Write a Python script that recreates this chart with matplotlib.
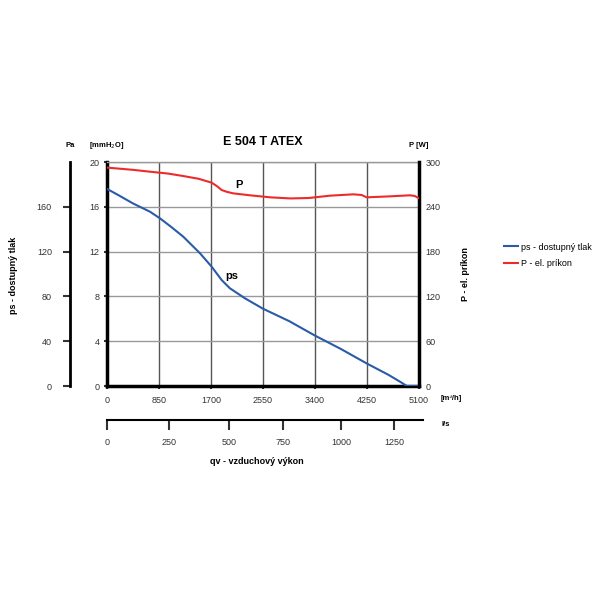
import numpy as np
import matplotlib
matplotlib.use("Agg")
import matplotlib.pyplot as plt

plt.rcParams['font.family'] = ['Liberation Sans', 'DejaVu Sans']

# airflow [m3/h] and static pressure [mmH2O]
q_ps = [0, 200, 425, 703, 866, 1050, 1247, 1520, 1711, 1874, 2010, 2255, 2550, 2975, 3400, 3825, 4250, 4600, 4800, 4900, 5080]
ps = [17.6, 17.0, 16.3, 15.56, 14.97, 14.2, 13.33, 11.85, 10.65, 9.46, 8.72, 7.83, 6.9, 5.8, 4.5, 3.3, 2.0, 1.0, 0.35, 0.0, 0.0]

# airflow [m3/h] and electric input [W]
q_p = [0, 425, 703, 1000, 1247, 1500, 1711, 1800, 1874, 1960, 2064, 2337, 2665, 3000, 3300, 3645, 4026, 4162, 4244, 4400, 4625, 4951, 5030, 5100]
p_w = [292.5, 289.5, 287.0, 284.5, 281.2, 277.5, 272.3, 267.5, 262.5, 260.0, 258.0, 255.4, 252.7, 251.2, 251.8, 254.9, 256.7, 255.8, 252.7, 253.2, 254.0, 255.4, 254.5, 251.4]

q_ticks = [0, 850, 1700, 2550, 3400, 4250, 5100]
mm_ticks = [0, 4, 8, 12, 16, 20]
w_ticks = [0, 60, 120, 180, 240, 300]
pa_ticks = [0, 40, 80, 120, 160]
# l/s ticks as placed on the m3/h scale in the original
ls_labels = ['0', '250', '500', '750', '1000', '1250']
ls_pos = [0, 1013, 1994, 2877, 3825, 4691]

blue = '#2a5ba8'
red = '#ee2b2b'

W = 600.0
fig = plt.figure(figsize=(6, 6), dpi=100)

def box(x0, y0, x1, y1):
    return [x0 / W, 1 - y1 / W, (x1 - x0) / W, (y1 - y0) / W]

ax = fig.add_axes(box(107, 162, 419, 386))
ax.set_xlim(0, 5100)
ax.set_ylim(0, 20)
for q in q_ticks[1:-1]:
    ax.axvline(q, color='#555555', lw=1.0, zorder=1)
for m in mm_ticks[1:]:
    ax.axhline(m, color='#999999', lw=1.0, zorder=1)
ax.plot(q_ps, ps, color=blue, lw=1.5, zorder=3, solid_joinstyle='round')
ax.set_xticks(q_ticks)
ax.set_yticks(mm_ticks)
ax.tick_params(axis='both', labelsize=6.5, colors='#333333', length=2, width=1.5)
ax.tick_params(axis='x', pad=5)
for s in ['left', 'bottom']:
    ax.spines[s].set_linewidth(2.5)
ax.spines['right'].set_visible(False)
ax.spines['top'].set_color('#999999')
ax.spines['top'].set_linewidth(1.0)
ax.text(0.0, 1.065, '[mmH$_2$O]', transform=ax.transAxes, fontsize=5.5, fontweight='bold', ha='center')
ax.text(0.5, 1.075, 'E 504 T ATEX', transform=ax.transAxes, fontsize=9, fontweight='bold', ha='center')
ax.text(1.07, -0.055, '[m³/h]', transform=ax.transAxes, fontsize=5.5, fontweight='bold',
        ha='left', va='center')
ax.text(2043, 9.78, 'ps', fontsize=8, fontweight='bold', ha='center', va='center')

# right axis: electric input
ax2 = ax.twinx()
ax2.set_ylim(0, 300)
ax2.plot(q_p, p_w, color=red, lw=1.5, zorder=3, solid_joinstyle='round')
ax2.set_yticks(w_ticks)
ax2.tick_params(axis='y', labelsize=6.5, colors='#333333', length=2, width=1.5, direction='inout')
for s in ['left', 'top', 'bottom']:
    ax2.spines[s].set_visible(False)
ax2.spines['right'].set_linewidth(2.5)
ax2.text(2158, 269.2, 'P', fontsize=8, fontweight='bold', ha='center', va='center')
ax2.text(1.0, 1.065, 'P [W]', transform=ax2.transAxes, fontsize=5.5, fontweight='bold', ha='center')
ax2.text(1.15, 0.5, 'P - el. príkon', transform=ax2.transAxes, fontsize=6.5, fontweight='bold',
         rotation=90, ha='center', va='center')

# Pa scale
axp = fig.add_axes(box(70, 162, 71, 386))
axp.set_ylim(0, 200)
axp.set_xticks([])
axp.set_yticks(pa_ticks)
axp.tick_params(axis='y', labelsize=6.5, colors='#333333', length=5, width=1.5, pad=8)
for s in ['right', 'top', 'bottom']:
    axp.spines[s].set_visible(False)
axp.spines['left'].set_linewidth(2)
axp.patch.set_visible(False)
axp.text(0, 1.065, 'Pa', transform=axp.transAxes, fontsize=5.5, fontweight='bold', ha='center')
fig.text(14 / W, 1 - 275 / W, 'ps - dostupný tlak', fontsize=6.5, fontweight='bold',
         rotation=90, ha='center', va='center')

# l/s scale
axl = fig.add_axes(box(107, 419, 423, 420))
axl.set_xlim(0, 5100 * 316 / 312)
axl.set_yticks([])
axl.set_xticks(ls_pos)
axl.set_xticklabels(ls_labels)
axl.tick_params(axis='x', labelsize=6.5, colors='#333333', length=7, width=1.5, pad=6)
for s in ['left', 'right', 'top']:
    axl.spines[s].set_visible(False)
axl.spines['bottom'].set_linewidth(1.5)
axl.patch.set_visible(False)
fig.text(442 / W, 1 - 425 / W, 'l/s', fontsize=5.5, fontweight='bold', ha='left', va='center')
fig.text(257 / W, 1 - 461 / W, 'qv - vzduchový výkon', fontsize=6.5, fontweight='bold',
         ha='center', va='center')

# legend
fig.legend(handles=[plt.Line2D([], [], color=blue, lw=1.5), plt.Line2D([], [], color=red, lw=1.5)],
           labels=['ps - dostupný tlak', 'P - el. príkon'], loc='upper left',
           bbox_to_anchor=(500 / W, 1 - 239 / W), frameon=False, fontsize=6.5,
           handlelength=1.6, handletextpad=0.3, labelspacing=0.85, borderaxespad=0)

fig.savefig('out.png', dpi=100, facecolor='white')
